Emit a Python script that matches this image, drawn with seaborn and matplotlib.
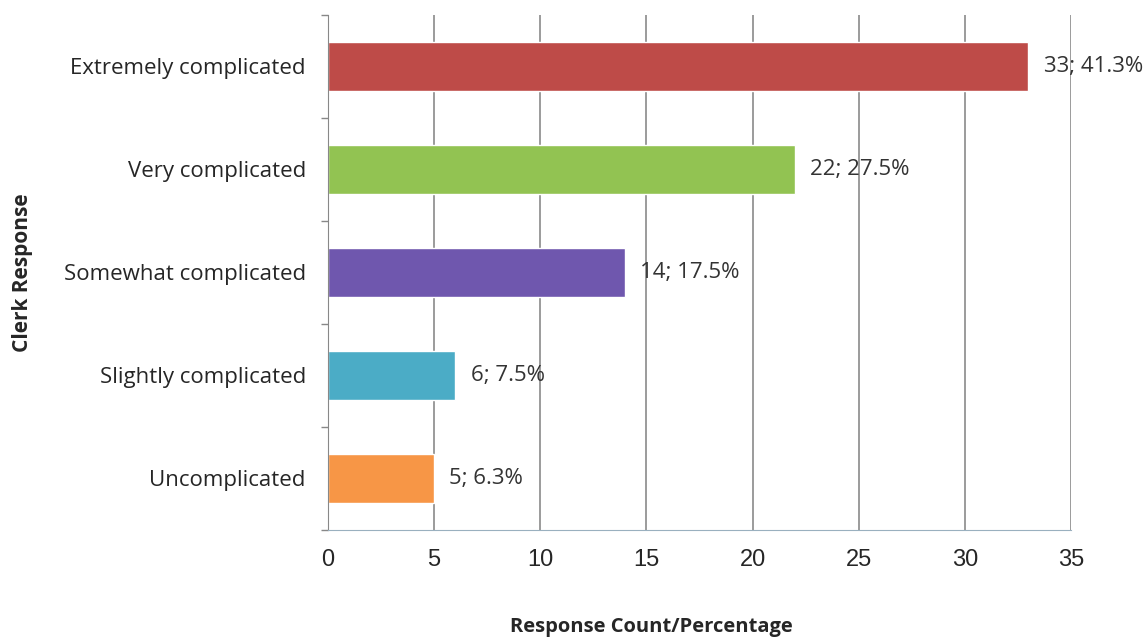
import pandas as pd
import matplotlib.pyplot as plt
import seaborn as sns

# dados do gráfico
categorias = ['Extremely complicated', 'Very complicated', 'Somewhat complicated',
              'Slightly complicated', 'Uncomplicated']
contagens = [33, 22, 14, 6, 5]
percentuais = [41.3, 27.5, 17.5, 7.5, 6.3]
cores = ['#BE4B48', '#92C352', '#6F57AE', '#4BACC6', '#F79646']

df = pd.DataFrame({'resposta': categorias, 'contagem': contagens, 'pct': percentuais})

sns.set_style('white')
plt.rcParams['font.family'] = ['Open Sans', 'DejaVu Sans']

fig = plt.figure(figsize=(11.46, 6.37), dpi=100)
ax = fig.add_axes([0.2862, 0.168, 0.6483, 0.8085])

sns.barplot(data=df, y='resposta', x='contagem', hue='resposta', palette=cores,
            order=categorias, width=0.48, legend=False, ax=ax, saturation=1)

ax.set_xlim(0, 35)
ax.set_xticks(range(0, 36, 5))
ax.set_ylim(4.5, -0.5)
ax.grid(axis='x', color='#808080', linewidth=1.1)
ax.set_axisbelow(True)

for tl in ax.get_xticklabels():
    tl.set_fontfamily('Liberation Sans')
ax.tick_params(axis='x', labelsize=17, length=0, pad=14)
ax.tick_params(axis='y', labelsize=16, length=0, pad=16)

# marcas do eixo y entre as barras
ax.set_yticks(range(len(categorias)))
ax.set_yticks([i + 0.5 for i in range(-1, len(categorias))], minor=True)
ax.tick_params(axis='y', which='minor', length=5, width=1, color='#888888',
               direction='out', left=True)

for s in ['top', 'right']:
    ax.spines[s].set_visible(False)
ax.spines['left'].set_color('#888888')
ax.spines['bottom'].set_color('#9ab0bf')

for i, (c, p) in enumerate(zip(contagens, percentuais)):
    ax.annotate(f'{c}; {p}%', xy=(c, i), xytext=(11, 0), textcoords='offset points',
                va='center', ha='left', fontsize=16, color='#333333')

ax.set_xlabel('Response Count/Percentage', fontsize=14.5, fontweight='bold')
ax.set_ylabel('Clerk Response', fontsize=15, fontweight='bold')
ax.xaxis.set_label_coords(0.4347, -0.169)
ax.yaxis.set_label_coords(-0.397, 0.5)

plt.savefig('out.png', dpi=100)
